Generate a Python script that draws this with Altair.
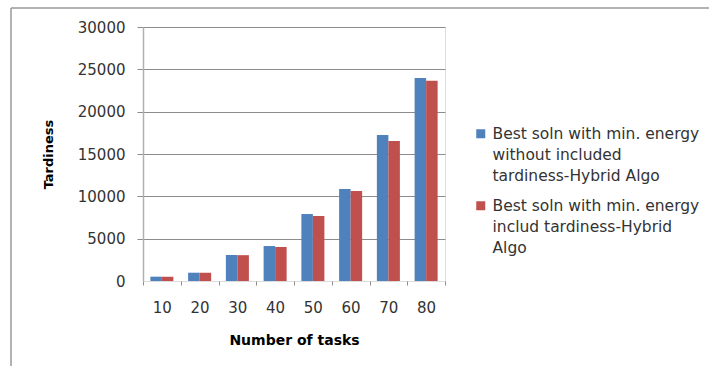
import altair as alt
import pandas as pd

tasks = ["10", "20", "30", "40", "50", "60", "70", "80"]
series_names = [
    "Best soln with min. energy without included tardiness-Hybrid Algo",
    "Best soln with min. energy includ tardiness-Hybrid Algo",
]
legend_lines = [
    ["Best soln with min. energy", "without included", "tardiness-Hybrid Algo"],
    ["Best soln with min. energy", "includ tardiness-Hybrid", "Algo"],
]
without_tardiness = [510, 980, 3070, 4130, 7910, 10870, 17240, 23980]
with_tardiness = [500, 975, 3050, 4020, 7680, 10630, 16540, 23660]
y_ticks = [0, 5000, 10000, 15000, 20000, 25000, 30000]
colors = ["#4F81BD", "#C0504D"]

rows = []
for i, t in enumerate(tasks):
    rows.append({"tasks": t, "series": series_names[0], "order": 0, "value": without_tardiness[i]})
    rows.append({"tasks": t, "series": series_names[1], "order": 1, "value": with_tardiness[i]})
df = pd.DataFrame(rows)

def js_list(lines):
    return "[" + ",".join("'" + s + "'" for s in lines) + "]"

label_expr = "datum.label == '{}' ? {} : {}".format(
    series_names[0], js_list(legend_lines[0]), js_list(legend_lines[1])
)

FONT = "DejaVu Sans"
W, H = 302, 254
LEFT, TOP = 143, 27

# square symbol, shifted down so it lines up with the first label line
SQUARE_LOW = "M-1,0.556 L1,0.556 L1,2.556 L-1,2.556 Z"

bars = alt.Chart(df).mark_bar().encode(
    x=alt.X(
        "tasks:N",
        sort=tasks,
        scale=alt.Scale(paddingInner=0, paddingOuter=0),
        axis=alt.Axis(
            title="Number of tasks",
            labelAngle=0,
            labelFont=FONT,
            labelFontSize=15,
            labelColor="#333333",
            labelPadding=15,
            tickBand="extent",
            tickSize=4,
            tickColor="#8c8c8c",
            domain=False,
            titleFont=FONT,
            titleFontSize=14,
            titleFontWeight="bold",
            titleColor="#000000",
            titleY=59,
            titleBaseline="middle",
        ),
    ),
    xOffset=alt.XOffset(
        "series:N",
        sort=series_names,
        scale=alt.Scale(paddingInner=0, paddingOuter=0.64),
    ),
    y=alt.Y(
        "value:Q",
        scale=alt.Scale(domain=[0, 30000], nice=False),
        axis=alt.Axis(
            title="Tardiness",
            values=y_ticks,
            format="d",
            labelFont=FONT,
            labelFontSize=15,
            labelColor="#333333",
            labelPadding=12,
            tickSize=6,
            tickColor="#8c8c8c",
            tickOpacity={"condition": {"test": "datum.value === 0", "value": 0}, "value": 1},
            grid=True,
            gridColor="#8c8c8c",
            gridOpacity={"condition": {"test": "datum.value === 0", "value": 0}, "value": 1},
            domain=True,
            domainColor="#b0b0b0",
            domainWidth=1.5,
            titleFont=FONT,
            titleFontSize=13,
            titleFontWeight="bold",
            titleColor="#000000",
            titleX=-95,
            titleY=127,
            titleBaseline="middle",
            titleAngle=270,
        ),
    ),
    color=alt.Color(
        "series:N",
        sort=series_names,
        scale=alt.Scale(domain=series_names, range=colors),
        legend=alt.Legend(
            title=None,
            orient="none",
            legendX=330,
            legendY=92,
            symbolType=SQUARE_LOW,
            symbolSize=81,
            symbolStrokeWidth=0,
            labelFont=FONT,
            labelFontSize=15.5,
            labelColor="#333333",
            labelOffset=4,
            labelLimit=400,
            labelBaseline="top",
            labelExpr=label_expr,
            rowPadding=6,
            padding=0,
        ),
    ),
)

frame_top = alt.Chart(pd.DataFrame({"a": [0]})).mark_rule(color="#999999", strokeWidth=1.5).encode(
    x=alt.value(11 - LEFT), x2=alt.value(709 - LEFT), y=alt.value(8 - TOP)
)
frame_left = alt.Chart(pd.DataFrame({"a": [0]})).mark_rule(color="#999999", strokeWidth=1.5).encode(
    x=alt.value(11 - LEFT), y=alt.value(8 - TOP), y2=alt.value(366 - TOP)
)

chart = alt.layer(bars, frame_top, frame_left).properties(
    width=W,
    height=H,
    autosize=alt.AutoSizeParams(type="none"),
    padding={"left": LEFT, "top": TOP, "right": 709 - LEFT - W, "bottom": 366 - TOP - H},
    background="white",
).configure_view(stroke=None).configure(style={"guide-label": {"lineHeight": 21}})

chart.save("out.html", embed_options={"renderer": "svg", "actions": False})
